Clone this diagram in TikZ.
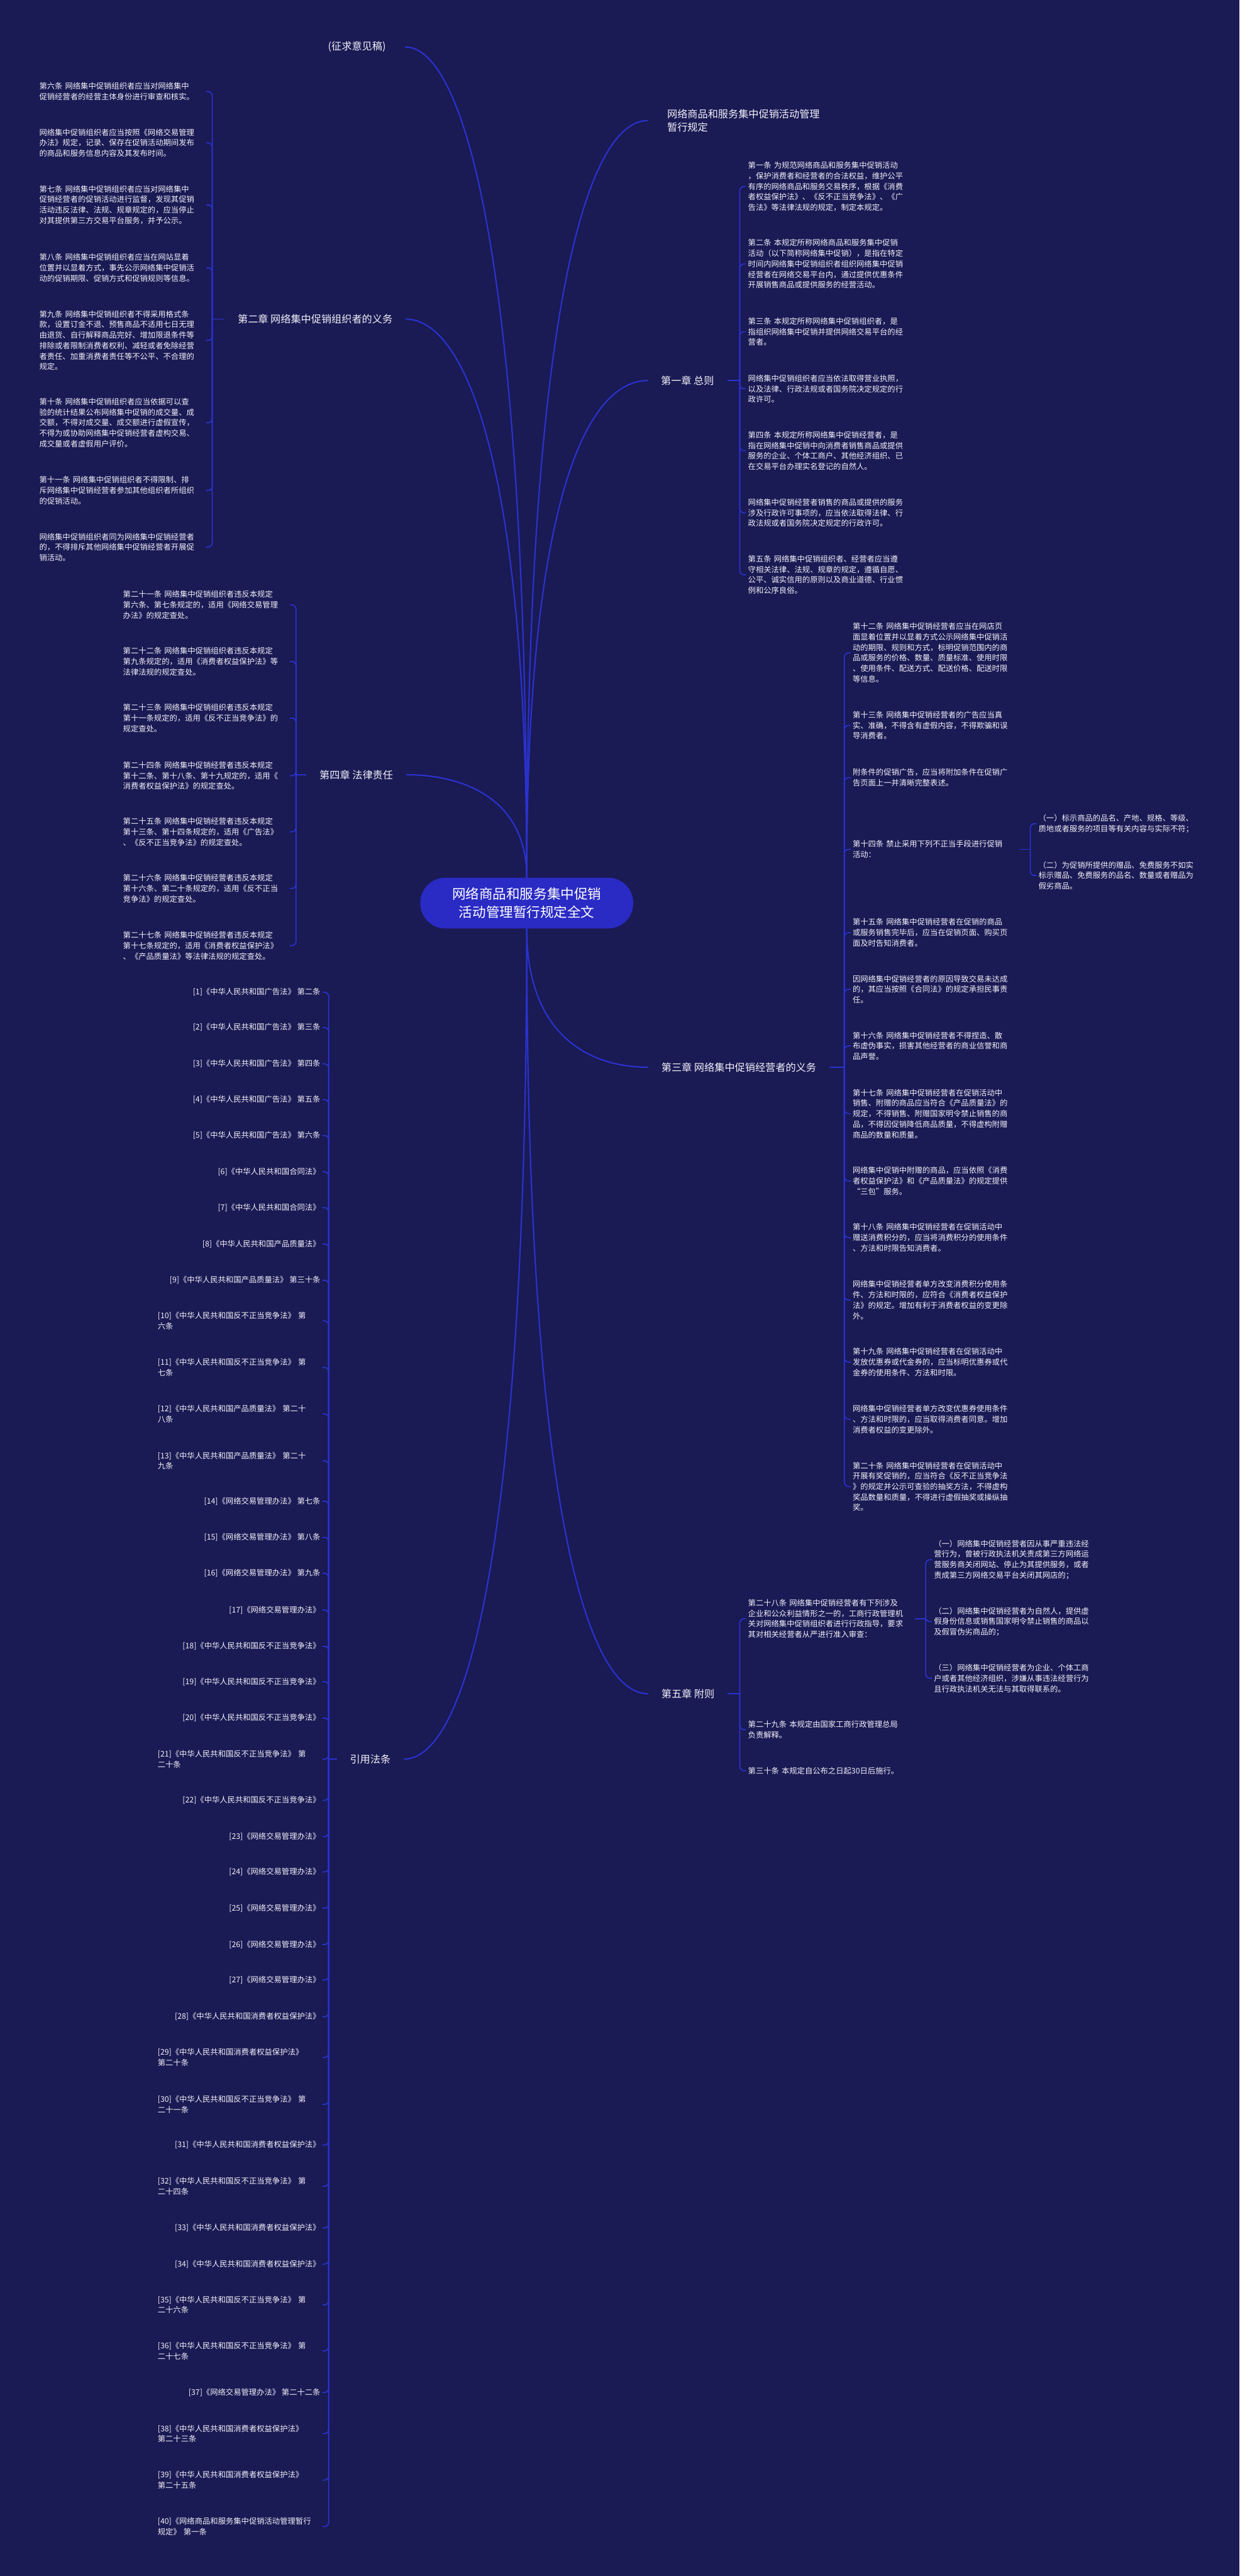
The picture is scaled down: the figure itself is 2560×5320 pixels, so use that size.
\documentclass[tikz,border=0pt]{standalone}
\usepackage{fontspec}
\setmainfont{Noto Sans CJK SC}
\definecolor{bg}{RGB}{26,26,84}
\definecolor{linec}{RGB}{42,50,205}
\definecolor{rootc}{RGB}{42,42,196}
\definecolor{txt}{RGB}{242,242,250}
\tikzset{
  conn/.style={draw=linec, line width=2.8pt},
  brk/.style={draw=linec, line width=2.2pt, rounded corners=9pt},
  leaf/.style={font=\fontsize{16}{21.7}\selectfont, text=txt, text width=340pt, align=left, inner xsep=4pt, inner ysep=2pt},
  cite/.style={font=\fontsize{16}{21.7}\selectfont, text=txt, inner xsep=4pt, inner ysep=2pt, anchor=east},
  citew/.style={cite, text width=336pt, align=left},
  lab/.style={font=\fontsize{21}{28}\selectfont, text=txt, inner xsep=27pt, inner ysep=3pt, align=left},
  rootn/.style={fill=rootc, text=white, rounded corners=52pt, minimum width=440pt, minimum height=105pt, align=center, font=\fontsize{28}{38}\selectfont}
}
\begin{document}
\begin{tikzpicture}[x=1pt,y=-1pt]
\fill[bg] (0,0) rectangle (2560,5320);
\useasboundingbox (0,0) rectangle (2560,5320);

% root
\node[rootn] (root) at (1088,1865) {网络商品和服务集中促销\\活动管理暂行规定全文};

% first-level labels
\node[lab, anchor=east, inner xsep=40pt] (lz) at (837,97) {(征求意见稿)};
\node[lab, anchor=west, inner xsep=40pt] (lt) at (1338,249) {网络商品和服务集中促销活动管理\\暂行规定};
\node[lab, anchor=west] (l1) at (1338,786) {第一章 总则};
\node[lab, anchor=east] (l2) at (838,659) {第二章 网络集中促销组织者的义务};
\node[lab, anchor=west] (l3) at (1339,2204) {第三章 网络集中促销经营者的义务};
\node[lab, anchor=east] (l4) at (839,1600) {第四章 法律责任};
\node[lab, anchor=west] (l5) at (1339,3498) {第五章 附则};
\node[lab, anchor=east] (l6) at (834,3633) {引用法条};

\draw[conn] (root.north) .. controls +(0,-1286) and +(120,0) .. (lz.east);
\draw[conn] (root.north) .. controls +(0,-865) and +(120,0) .. (l2.east);
\draw[conn] (root.north) .. controls +(0,-159) and +(124,0) .. (l4.east);
\draw[conn] (root.south) .. controls +(0,1287) and +(129,0) .. (l6.east);
\draw[conn] (root.north) .. controls +(0,-1175) and +(-124,0) .. (lt.west);
\draw[conn] (root.north) .. controls +(0,-770) and +(-128,0) .. (l1.west);
\draw[conn] (root.south) .. controls +(0,215) and +(-128,0) .. (l3.west);
\draw[conn] (root.south) .. controls +(0,1186) and +(-128,0) .. (l5.west);

% ---------- chapter 1 ----------
\node[leaf, anchor=west] (c1a) at (1541,385) {第一条 为规范网络商品和服务集中促销活动\\，保护消费者和经营者的合法权益，维护公平\\有序的网络商品和服务交易秩序，根据《消费\\者权益保护法》、《反不正当竞争法》、《广\\告法》等法律法规的规定，制定本规定。};
\node[leaf, anchor=west] (c1b) at (1541,545) {第二条 本规定所称网络商品和服务集中促销\\活动（以下简称网络集中促销），是指在特定\\时间内网络集中促销组织者组织网络集中促销\\经营者在网络交易平台内，通过提供优惠条件\\开展销售商品或提供服务的经营活动。};
\node[leaf, anchor=west] (c1c) at (1541,685) {第三条 本规定所称网络集中促销组织者，是\\指组织网络集中促销并提供网络交易平台的经\\营者。};
\node[leaf, anchor=west] (c1d) at (1541,803) {网络集中促销组织者应当依法取得营业执照，\\以及法律、行政法规或者国务院决定规定的行\\政许可。};
\node[leaf, anchor=west] (c1e) at (1541,931) {第四条 本规定所称网络集中促销经营者，是\\指在网络集中促销中向消费者销售商品或提供\\服务的企业、个体工商户、其他经济组织、已\\在交易平台办理实名登记的自然人。};
\node[leaf, anchor=west] (c1f) at (1541,1059) {网络集中促销经营者销售的商品或提供的服务\\涉及行政许可事项的，应当依法取得法律、行\\政法规或者国务院决定规定的行政许可。};
\node[leaf, anchor=west] (c1g) at (1541,1187) {第五条 网络集中促销组织者、经营者应当遵\\守相关法律、法规、规章的规定，遵循自愿、\\公平、诚实信用的原则以及商业道德、行业惯\\例和公序良俗。};
\coordinate (b1) at ([xshift=-13pt]c1a.west |- l1.east);
\draw[brk] (l1.east) -- (b1);
\foreach \n in {c1a,c1b,c1c,c1d,c1e,c1f,c1g} \draw[brk] (b1) |- (\n.west);

% ---------- chapter 2 ----------
\node[leaf, anchor=west] (c2a) at (77,189) {第六条 网络集中促销组织者应当对网络集中\\促销经营者的经营主体身份进行审查和核实。};
\node[leaf, anchor=west] (c2b) at (77,295) {网络集中促销组织者应当按照《网络交易管理\\办法》规定，记录、保存在促销活动期间发布\\的商品和服务信息内容及其发布时间。};
\node[leaf, anchor=west] (c2c) at (77,423) {第七条 网络集中促销组织者应当对网络集中\\促销经营者的促销活动进行监督，发现其促销\\活动违反法律、法规、规章规定的，应当停止\\对其提供第三方交易平台服务，并予公示。};
\node[leaf, anchor=west] (c2d) at (77,553) {第八条 网络集中促销组织者应当在网站显着\\位置并以显着方式，事先公示网络集中促销活\\动的促销期限、促销方式和促销规则等信息。};
\node[leaf, anchor=west] (c2e) at (77,703) {第九条 网络集中促销组织者不得采用格式条\\款，设置订金不退、预售商品不适用七日无理\\由退货、自行解释商品完好、增加限退条件等\\排除或者限制消费者权利、减轻或者免除经营\\者责任、加重消费者责任等不公平、不合理的\\规定。};
\node[leaf, anchor=west] (c2f) at (77,873) {第十条 网络集中促销组织者应当依据可以查\\验的统计结果公布网络集中促销的成交量、成\\交额，不得对成交量、成交额进行虚假宣传，\\不得为或协助网络集中促销经营者虚构交易、\\成交量或者虚假用户评价。};
\node[leaf, anchor=west] (c2g) at (77,1013) {第十一条 网络集中促销组织者不得限制、排\\斥网络集中促销经营者参加其他组织者所组织\\的促销活动。};
\node[leaf, anchor=west] (c2h) at (77,1130) {网络集中促销组织者同为网络集中促销经营者\\的，不得排斥其他网络集中促销经营者开展促\\销活动。};
\coordinate (b2) at ([xshift=13pt]c2a.east |- l2.west);
\draw[brk] (l2.west) -- (b2);
\foreach \n in {c2a,c2b,c2c,c2d,c2e,c2f,c2g,c2h} \draw[brk] (b2) |- (\n.east);

% ---------- chapter 3 ----------
\node[leaf, anchor=west] (c3a) at (1757,1348) {第十二条 网络集中促销经营者应当在网店页\\面显着位置并以显着方式公示网络集中促销活\\动的期限、规则和方式，标明促销范围内的商\\品或服务的价格、数量、质量标准、使用时限\\、使用条件、配送方式、配送价格、配送时限\\等信息。};
\node[leaf, anchor=west] (c3b) at (1757,1498) {第十三条 网络集中促销经营者的广告应当真\\实、准确，不得含有虚假内容，不得欺骗和误\\导消费者。};
\node[leaf, anchor=west] (c3c) at (1757,1606) {附条件的促销广告，应当将附加条件在促销广\\告页面上一并清晰完整表述。};
\node[leaf, anchor=west] (c3d) at (1757,1754) {第十四条 禁止采用下列不正当手段进行促销\\活动：};
\node[leaf, anchor=west] (c3e) at (1757,1926) {第十五条 网络集中促销经营者在促销的商品\\或服务销售完毕后，应当在促销页面、购买页\\面及时告知消费者。};
\node[leaf, anchor=west] (c3f) at (1757,2043) {因网络集中促销经营者的原因导致交易未达成\\的，其应当按照《合同法》的规定承担民事责\\任。};
\node[leaf, anchor=west] (c3g) at (1757,2160) {第十六条 网络集中促销经营者不得捏造、散\\布虚伪事实，损害其他经营者的商业信誉和商\\品声誉。};
\node[leaf, anchor=west] (c3h) at (1757,2300) {第十七条 网络集中促销经营者在促销活动中\\销售、附赠的商品应当符合《产品质量法》的\\规定，不得销售、附赠国家明令禁止销售的商\\品，不得因促销降低商品质量，不得虚构附赠\\商品的数量和质量。};
\node[leaf, anchor=west] (c3i) at (1757,2439) {网络集中促销中附赠的商品，应当依照《消费\\者权益保护法》和《产品质量法》的规定提供\\“三包”服务。};
\node[leaf, anchor=west] (c3j) at (1757,2556) {第十八条 网络集中促销经营者在促销活动中\\赠送消费积分的，应当将消费积分的使用条件\\、方法和时限告知消费者。};
\node[leaf, anchor=west] (c3k) at (1757,2685) {网络集中促销经营者单方改变消费积分使用条\\件、方法和时限的，应符合《消费者权益保护\\法》的规定。增加有利于消费者权益的变更除\\外。};
\node[leaf, anchor=west] (c3l) at (1757,2813) {第十九条 网络集中促销经营者在促销活动中\\发放优惠券或代金券的，应当标明优惠券或代\\金券的使用条件、方法和时限。};
\node[leaf, anchor=west] (c3m) at (1757,2931) {网络集中促销经营者单方改变优惠券使用条件\\、方法和时限的，应当取得消费者同意。增加\\消费者权益的变更除外。};
\node[leaf, anchor=west] (c3n) at (1757,3070) {第二十条 网络集中促销经营者在促销活动中\\开展有奖促销的，应当符合《反不正当竞争法\\》的规定并公示可查验的抽奖方法，不得虚构\\奖品数量和质量，不得进行虚假抽奖或操纵抽\\奖。};
\coordinate (b3) at ([xshift=-13pt]c3a.west |- l3.east);
\draw[brk] (l3.east) -- (b3);
\foreach \n in {c3a,c3b,c3c,c3d,c3e,c3f,c3g,c3h,c3i,c3j,c3k,c3l,c3m,c3n} \draw[brk] (b3) |- (\n.west);

\node[leaf, anchor=west] (c3d1) at (2141,1701) {（一）标示商品的品名、产地、规格、等级、\\质地或者服务的项目等有关内容与实际不符；};
\node[leaf, anchor=west] (c3d2) at (2141,1808) {（二）为促销所提供的赠品、免费服务不如实\\标示赠品、免费服务的品名、数量或者赠品为\\假劣商品。};
\coordinate (b3d) at ([xshift=-13pt]c3d1.west |- c3d.east);
\draw[brk] (c3d.east) -- (b3d);
\foreach \n in {c3d1,c3d2} \draw[brk] (b3d) |- (\n.west);

% ---------- chapter 4 ----------
\node[leaf, anchor=west] (c4a) at (250,1249) {第二十一条 网络集中促销组织者违反本规定\\第六条、第七条规定的，适用《网络交易管理\\办法》的规定查处。};
\node[leaf, anchor=west] (c4b) at (250,1366) {第二十二条 网络集中促销组织者违反本规定\\第九条规定的，适用《消费者权益保护法》等\\法律法规的规定查处。};
\node[leaf, anchor=west] (c4c) at (250,1483) {第二十三条 网络集中促销组织者违反本规定\\第十一条规定的，适用《反不正当竞争法》的\\规定查处。};
\node[leaf, anchor=west] (c4d) at (250,1602) {第二十四条 网络集中促销经营者违反本规定\\第十二条、第十八条、第十九规定的，适用《\\消费者权益保护法》的规定查处。};
\node[leaf, anchor=west] (c4e) at (250,1718) {第二十五条 网络集中促销经营者违反本规定\\第十三条、第十四条规定的，适用《广告法》\\、《反不正当竞争法》的规定查处。};
\node[leaf, anchor=west] (c4f) at (250,1835) {第二十六条 网络集中促销经营者违反本规定\\第十六条、第二十条规定的，适用《反不正当\\竞争法》的规定查处。};
\node[leaf, anchor=west] (c4g) at (250,1953) {第二十七条 网络集中促销经营者违反本规定\\第十七条规定的，适用《消费者权益保护法》\\、《产品质量法》等法律法规的规定查处。};
\coordinate (b4) at ([xshift=13pt]c4a.east |- l4.west);
\draw[brk] (l4.west) -- (b4);
\foreach \n in {c4a,c4b,c4c,c4d,c4e,c4f,c4g} \draw[brk] (b4) |- (\n.east);

% ---------- chapter 5 ----------
\node[leaf, anchor=west] (c5a) at (1541,3343) {第二十八条 网络集中促销经营者有下列涉及\\企业和公众利益情形之一的，工商行政管理机\\关对网络集中促销组织者进行行政指导，要求\\其对相关经营者从严进行准入审查：};
\node[leaf, anchor=west] (c5b) at (1541,3572) {第二十九条 本规定由国家工商行政管理总局\\负责解释。};
\node[leaf, anchor=west] (c5c) at (1541,3657) {第三十条 本规定自公布之日起30日后施行。};
\coordinate (b5) at ([xshift=-13pt]c5a.west |- l5.east);
\draw[brk] (l5.east) -- (b5);
\foreach \n in {c5a,c5b,c5c} \draw[brk] (b5) |- (\n.west);

\node[leaf, anchor=west] (c5a1) at (1925,3221) {（一）网络集中促销经营者因从事严重违法经\\营行为，曾被行政执法机关责成第三方网络运\\营服务商关闭网站、停止为其提供服务，或者\\责成第三方网络交易平台关闭其网店的；};
\node[leaf, anchor=west] (c5a2) at (1925,3349) {（二）网络集中促销经营者为自然人，提供虚\\假身份信息或销售国家明令禁止销售的商品以\\及假冒伪劣商品的；};
\node[leaf, anchor=west] (c5a3) at (1925,3466) {（三）网络集中促销经营者为企业、个体工商\\户或者其他经济组织，涉嫌从事违法经营行为\\且行政执法机关无法与其取得联系的。};
\coordinate (b5a) at ([xshift=-13pt]c5a1.west |- c5a.east);
\draw[brk] (c5a.east) -- (b5a);
\foreach \n in {c5a1,c5a2,c5a3} \draw[brk] (b5a) |- (\n.west);

% ---------- citations ----------
\node[cite] (r1) at (666,2049) {[1]《中华人民共和国广告法》 第二条};
\node[cite] (r2) at (666,2122) {[2]《中华人民共和国广告法》 第三条};
\node[cite] (r3) at (666,2197) {[3]《中华人民共和国广告法》 第四条};
\node[cite] (r4) at (666,2271) {[4]《中华人民共和国广告法》 第五条};
\node[cite] (r5) at (666,2345) {[5]《中华人民共和国广告法》 第六条};
\node[cite] (r6) at (666,2420) {[6]《中华人民共和国合同法》};
\node[cite] (r7) at (666,2494) {[7]《中华人民共和国合同法》};
\node[cite] (r8) at (666,2569) {[8]《中华人民共和国产品质量法》};
\node[cite] (r9) at (666,2644) {[9]《中华人民共和国产品质量法》 第三十条};
\node[citew] (r10) at (666,2728) {[10]《中华人民共和国反不正当竞争法》 第\\六条};
\node[citew] (r11) at (666,2824) {[11]《中华人民共和国反不正当竞争法》 第\\七条};
\node[citew] (r12) at (666,2920) {[12]《中华人民共和国产品质量法》 第二十\\八条};
\node[citew] (r13) at (666,3017) {[13]《中华人民共和国产品质量法》 第二十\\九条};
\node[cite] (r14) at (666,3100) {[14]《网络交易管理办法》 第七条};
\node[cite] (r15) at (666,3175) {[15]《网络交易管理办法》 第八条};
\node[cite] (r16) at (666,3249) {[16]《网络交易管理办法》 第九条};
\node[cite] (r17) at (666,3325) {[17]《网络交易管理办法》};
\node[cite] (r18) at (666,3400) {[18]《中华人民共和国反不正当竞争法》};
\node[cite] (r19) at (666,3473) {[19]《中华人民共和国反不正当竞争法》};
\node[cite] (r20) at (666,3548) {[20]《中华人民共和国反不正当竞争法》};
\node[citew] (r21) at (666,3633) {[21]《中华人民共和国反不正当竞争法》 第\\二十条};
\node[cite] (r22) at (666,3718) {[22]《中华人民共和国反不正当竞争法》};
\node[cite] (r23) at (666,3793) {[23]《网络交易管理办法》};
\node[cite] (r24) at (666,3866) {[24]《网络交易管理办法》};
\node[cite] (r25) at (666,3941) {[25]《网络交易管理办法》};
\node[cite] (r26) at (666,4016) {[26]《网络交易管理办法》};
\node[cite] (r27) at (666,4089) {[27]《网络交易管理办法》};
\node[cite] (r28) at (666,4165) {[28]《中华人民共和国消费者权益保护法》};
\node[citew] (r29) at (666,4249) {[29]《中华人民共和国消费者权益保护法》\\第二十条};
\node[citew] (r30) at (666,4346) {[30]《中华人民共和国反不正当竞争法》 第\\二十一条};
\node[cite] (r31) at (666,4430) {[31]《中华人民共和国消费者权益保护法》};
\node[citew] (r32) at (666,4515) {[32]《中华人民共和国反不正当竞争法》 第\\二十四条};
\node[cite] (r33) at (666,4601) {[33]《中华人民共和国消费者权益保护法》};
\node[cite] (r34) at (666,4676) {[34]《中华人民共和国消费者权益保护法》};
\node[citew] (r35) at (666,4760) {[35]《中华人民共和国反不正当竞争法》 第\\二十六条};
\node[citew] (r36) at (666,4855) {[36]《中华人民共和国反不正当竞争法》 第\\二十七条};
\node[cite] (r37) at (666,4941) {[37]《网络交易管理办法》 第二十二条};
\node[citew] (r38) at (666,5026) {[38]《中华人民共和国消费者权益保护法》\\第二十三条};
\node[citew] (r39) at (666,5122) {[39]《中华人民共和国消费者权益保护法》\\第二十五条};
\node[citew] (r40) at (666,5218) {[40]《网络商品和服务集中促销活动管理暂行\\规定》 第一条};
\coordinate (b6) at ([xshift=13pt]r1.east |- l6.west);
\draw[brk] (l6.west) -- (b6);
\foreach \i in {1,...,40} \draw[brk] (b6) |- (r\i.east);
\end{tikzpicture}
\end{document}
